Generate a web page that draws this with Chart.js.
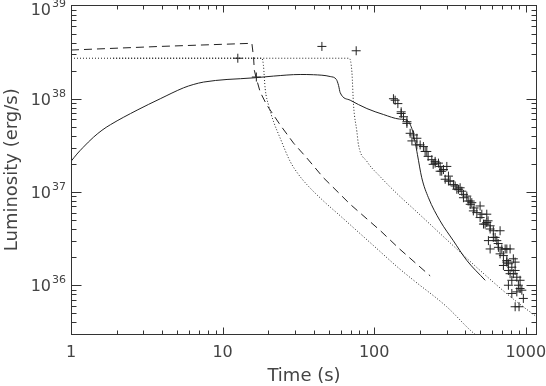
<!DOCTYPE html>
<html>
<head>
<meta charset="utf-8">
<script src="https://cdn.jsdelivr.net/npm/chart.js@4"></script>
<style>
  body { margin: 0; background: #fff; }
  canvas { display: block; }
</style>
</head>
<body>
<canvas id="chart" width="546" height="386"></canvas>
<script>
// axis ticks
const timeTicks = [1, 10, 100, 1000];
const lumExponents = [36, 37, 38, 39];

// solid model curve
const solidTime = [1.0, 1.094, 1.2, 1.41, 1.6, 1.82, 2.73, 3.88, 5.53, 6.4, 7.5, 10.7, 13.1, 16.4, 21.7, 32.5, 39.8,
  51.3, 56.3, 58.2, 59.7, 69.5, 89.5, 115, 147, 164, 177, 186, 193, 206, 228, 272, 333, 408, 540];
const solidLum = [2.13e37, 2.55e37, 3.0e37, 3.88e37, 4.59e37, 5.27e37, 7.55e37, 1.0e38, 1.31e38, 1.42e38, 1.51e38,
  1.61e38, 1.64e38, 1.68e38, 1.75e38, 1.82e38, 1.81e38, 1.73e38, 1.61e38, 1.39e38, 1.16e38, 9.64e37, 7.85e37,
  6.78e37, 6.05e37, 5.9e37, 4.81e37, 3.47e37, 2.51e37, 1.42e37, 8.68e36, 4.91e36, 3.0e36, 1.85e36, 1.13e36];

// dashed model curve
const dashTime = [1.0, 3.88, 14.8, 15.6, 16.0, 16.2, 16.6, 17.7, 19.6, 24.0, 29.4, 36.0, 46.3, 69.5, 110, 147, 234];
const dashLum = [3.33e38, 3.64e38, 3.92e38, 3.95e38, 2.78e38, 2.02e38, 1.71e38, 1.18e38, 8.53e37, 5.23e37,
  3.34e37, 2.31e37, 1.42e37, 7.38e36, 3.84e36, 2.45e36, 1.26e36];

// dotted model curves
const dot1Time = [1.0, 18.2, 18.6, 19.1, 20.1, 21.7, 24.0, 27.9, 31.6, 36.0, 46.3, 59.7, 76.9, 99, 147, 182, 301, 440, 480];
const dot1Lum = [2.72e38, 2.72e38, 2.27e38, 1.28e38, 8.53e37, 5.67e37, 3.77e37, 2.13e37, 1.55e37, 1.2e37, 8.0e36,
  5.55e36, 3.84e36, 2.66e36, 1.5e36, 1.13e36, 5.88e35, 3.19e35, 2.85e35];
const dot2Time = [1.9, 68.4, 71.3, 73.1, 76.9, 78.8, 89.5, 110, 147, 182, 301, 500, 828, 1183];
const dot2Lum = [2.72e38, 2.72e38, 1.93e38, 8.53e37, 4.44e37, 3.2e37, 2.13e37, 1.45e37, 9.04e36, 6.58e36,
  3.08e36, 1.44e36, 7.1e35, 4.57e35];

// observed points (+)
const obsTime = [12.6, 16.7, 45.2, 76.1, 134, 137.5, 143.3, 150.7, 156, 164.4,
  172.7, 181.6, 177.4, 191.3, 201, 211.3, 222.4, 227, 240, 245,
  252.4, 265.5, 272.3, 286.4, 301.4, 294, 309, 316.9, 333.3, 342,
  359.6, 378.5, 388, 408.3, 417, 440.6, 456, 499.6, 475.5, 513,
  553, 564, 539, 582, 611, 677, 628, 644, 657, 582,
  695, 750, 788, 712, 828, 750, 851, 809, 851, 788,
  873, 809, 917, 768, 894, 917, 809, 873, 851, 903,
  964, 150.7, 164.4, 191.3, 216.8, 252.4, 272.3, 309, 351, 388,
  430, 451, 500, 553, 582, 611, 567, 660, 677, 750,
  712, 768, 828, 279, 369, 430, 526, 731, 768, 942];
const obsLum = [2.72e38, 1.71e38, 3.64e38, 3.27e38, 1.0e38, 9.64e37, 8.87e37, 7.24e37, 6.41e37, 5.67e37,
  4.26e37, 4.09e37, 3.53e37, 3.77e37, 3.2e37, 3.07e37, 2.72e37, 2.41e37, 2.22e37, 1.98e37,
  2.13e37, 2.04e37, 1.67e37, 1.74e37, 1.88e37, 1.37e37, 1.48e37, 1.31e37, 1.2e37, 1.16e37,
  1.07e37, 1.02e37, 9.43e36, 9.04e36, 8.0e36, 7.68e36, 6.75e36, 7.08e36, 6.01e36, 5.78e36,
  5.78e36, 4.91e36, 4.53e36, 4.34e36, 3.84e36, 3.84e36, 3.26e36, 3.01e36, 2.8e36, 2.45e36,
  2.45e36, 2.45e36, 2.45e36, 2.08e36, 1.92e36, 1.77e36, 1.77e36, 1.56e36, 1.44e36, 1.33e36,
  1.22e36, 1.13e36, 1.13e36, 1e36, 1e36, 9.22e35, 8.16e35, 8.49e35, 5.88e35, 5.88e35,
  7.22e35, 6.95e37, 5.44e37, 3.2e37, 2.72e37, 2.04e37, 1.88e37, 1.31e37, 1.07e37, 8.68e36,
  7.38e36, 6.27e36, 5.32e36, 4.71e36, 4.01e36, 3.26e36, 3.01e36, 2.55e36, 2.17e36, 1.84e36,
  1.63e36, 1.44e36, 1.33e36, 1.67e37, 1.11e37, 8.0e36, 4.53e36, 2.45e36, 1.7e36, 8.85e35];

const zip = (xs, ys) => xs.map((x, i) => ({ x: x, y: ys[i] }));
const ink = '#222';
const textColor = '#444';

// IDL-like box: inward ticks on all four sides, labels and titles
const idlAxes = {
  id: 'idlAxes',
  afterDraw(chart) {
    const { ctx, chartArea: a, scales: { x, y } } = chart;
    const L = Math.floor(a.left) + 0.5, R = Math.ceil(a.right) - 0.5;
    const T = Math.floor(a.top) + 0.5, B = Math.floor(a.bottom) + 0.5;
    ctx.save();
    ctx.strokeStyle = '#333';
    ctx.lineWidth = 1;
    ctx.strokeRect(L, T, R - L, B - T);
    ctx.beginPath();
    for (let d = 1; d <= 1000; d *= 10) {
      for (let m = 1; m < 10; m++) {
        const v = d * m;
        if (v > x.max) break;
        const px = Math.round(x.getPixelForValue(v)) + 0.5;
        const len = m === 1 ? 7 : 4;
        ctx.moveTo(px, B); ctx.lineTo(px, B - len);
        ctx.moveTo(px, T); ctx.lineTo(px, T + len);
      }
    }
    for (let e = 35; e <= 38; e++) {
      for (let m = 1; m < 10; m++) {
        const v = m * Math.pow(10, e);
        if (v < y.min || v > y.max) continue;
        const py = Math.round(y.getPixelForValue(v)) + 0.5;
        const len = m === 1 ? 10 : 5;
        ctx.moveTo(L, py); ctx.lineTo(L + len, py);
        ctx.moveTo(R, py); ctx.lineTo(R - len, py);
      }
    }
    ctx.stroke();

    ctx.fillStyle = textColor;
    ctx.textBaseline = 'middle';
    ctx.textAlign = 'center';
    ctx.font = '16px "DejaVu Sans"';
    timeTicks.forEach(v => ctx.fillText(String(v), x.getPixelForValue(v), 353));

    lumExponents.forEach(e => {
      const py = y.getPixelForValue(Math.pow(10, e));
      const cy = Math.max(py + 2, 11);
      ctx.textAlign = 'right';
      ctx.font = '11px "DejaVu Sans"';
      const sup = String(e);
      const supW = ctx.measureText(sup).width;
      ctx.fillText(sup, 66, cy - 7);
      ctx.font = '16px "DejaVu Sans"';
      ctx.fillText('10', 66 - supW - 1, cy);
    });

    ctx.textAlign = 'center';
    ctx.font = '18px "DejaVu Sans"';
    ctx.fillText('Time (s)', (a.left + a.right) / 2, 376);
    ctx.translate(12, (a.top + a.bottom) / 2);
    ctx.rotate(-Math.PI / 2);
    ctx.fillText('Luminosity (erg/s)', 0, 0);
    ctx.restore();
  }
};

const ctx = document.getElementById('chart').getContext('2d');
new Chart(ctx, {
  type: 'line',
  data: {
    datasets: [
      { data: zip(solidTime, solidLum), borderColor: ink, borderWidth: 1, pointRadius: 0, cubicInterpolationMode: 'monotone' },
      { data: zip(dashTime, dashLum), borderColor: ink, borderWidth: 1, borderDash: [8, 5], pointRadius: 0 },
      { data: zip(dot1Time, dot1Lum), borderColor: ink, borderWidth: 1, borderDash: [1, 2], pointRadius: 0, cubicInterpolationMode: 'monotone' },
      { data: zip(dot2Time, dot2Lum), borderColor: ink, borderWidth: 1, borderDash: [1, 2], pointRadius: 0, cubicInterpolationMode: 'monotone' },
      {
        data: zip(obsTime, obsLum), showLine: false, pointStyle: 'cross', pointRadius: 4.5,
        pointBorderWidth: 1, pointBorderColor: ink, pointBackgroundColor: ink
      }
    ]
  },
  options: {
    responsive: false,
    devicePixelRatio: 1,
    animation: false,
    layout: { padding: { left: 71, right: 9, top: 4, bottom: 52 } },
    plugins: { legend: { display: false }, tooltip: { enabled: false } },
    scales: {
      x: { type: 'logarithmic', min: 1, max: 1186, display: false },
      y: { type: 'logarithmic', min: 3e35, max: 1e39, display: false }
    }
  },
  plugins: [idlAxes]
});
</script>
</body>
</html>
